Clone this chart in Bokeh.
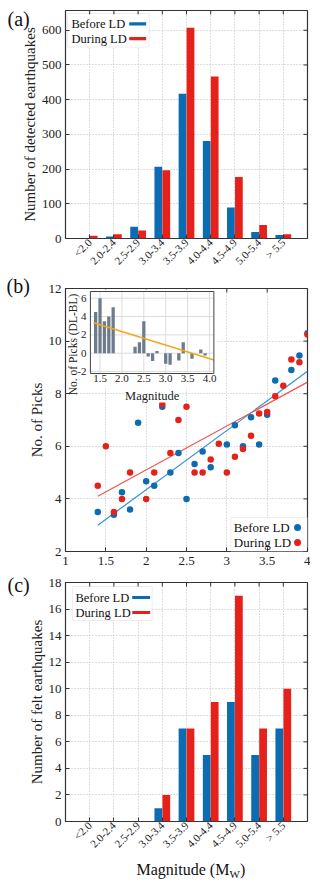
import math
import numpy as np
from bokeh.plotting import figure
from bokeh.layouts import column
from bokeh.models import Range1d, FixedTicker, Label, BoxAnnotation, Title
from bokeh.embed import file_html
from bokeh.resources import INLINE
from bokeh.core.properties import value

# ---------------- data ----------------
categories = ["<2.0", "2.0-2.4", "2.5-2.9", "3.0-3.4", "3.5-3.9",
              "4.0-4.4", "4.5-4.9", "5.0-5.4", "> 5.5"]
detected_before = [0, 6, 34, 207, 417, 281, 89, 19, 10]
detected_during = [8, 12, 23, 197, 607, 467, 177, 39, 12]
felt_before = [0, 0, 0, 1, 7, 5, 9, 5, 7]
felt_during = [0, 0, 0, 2, 7, 9, 17, 7, 10]

mag_before = [1.4, 1.6, 1.7, 1.8, 1.9, 2.0, 2.1, 2.2, 2.3, 2.4, 2.5, 2.6,
              2.7, 2.8, 3.0, 3.1, 3.2, 3.3, 3.4, 3.5, 3.6, 3.8, 3.9, 4.0]
picks_before = [3.5, 3.4, 4.25, 3.6, 6.9, 4.67, 4.5, 7.5, 5.0, 5.75, 4.0, 5.33,
                5.8, 5.2, 6.07, 6.8, 6.0, 7.1, 6.07, 7.2, 8.5, 8.9, 9.45, 10.3]
mag_during = [1.4, 1.5, 1.6, 1.7, 1.8, 2.0, 2.1, 2.2, 2.3, 2.4, 2.5, 2.6, 2.7,
              2.8, 2.9, 3.0, 3.1, 3.2, 3.3, 3.4, 3.5, 3.6, 3.7, 3.8, 3.9, 4.0]
picks_during = [4.5, 6.0, 3.5, 4.0, 5.0, 4.0, 5.0, 7.6, 5.75, 7.0, 7.5, 5.0, 5.0,
                5.5, 6.1, 5.0, 5.6, 5.9, 6.4, 7.25, 7.3, 7.9, 8.3, 9.3, 9.2, 10.25]
fit_before = [2.25, -0.15]    # slope, intercept
fit_during = [1.67, 1.76]

inset_mag = [1.4, 1.5, 1.6, 1.7, 1.8, 2.3, 2.4, 2.5, 2.6, 2.7, 2.8,
             3.0, 3.1, 3.3, 3.4, 3.6, 3.8, 3.9]
inset_diff = [4.5, 6.0, 3.5, 4.0, 5.0, 0.7, 1.2, 3.5, -0.35, -0.85, 0.25,
              -1.15, -1.25, -0.8, 1.2, -0.6, 0.4, -0.25]
inset_trend = [-1.47, 5.3]    # slope, intercept

bar_xticks = list(range(len(categories)))
b_xticks = [1, 1.5, 2, 2.5, 3, 3.5, 4]
b_xlabels = ["1", "1.5", "2", "2.5", "3", "3.5", "4"]
b_yticks = [2, 4, 6, 8, 10, 12]
a_yticks = [0, 100, 200, 300, 400, 500, 600]
c_yticks = [0, 2, 4, 6, 8, 10, 12, 14, 16, 18]
inset_xticks = [1.5, 2.0, 2.5, 3.0, 3.5, 4.0]
inset_xlabels = ["1.5", "2.0", "2.5", "3.0", "3.5", "4.0"]
inset_yticks = [-2, 0, 2, 4, 6]

# ---------------- style ----------------
BLUE = "#0b6cb1"
RED = "#e5211a"
BLUE_L = "#2f92da"
RED_L = "#f0544e"
FONT = "Liberation Serif"
GRID = "#bdbdbd"
SH = 6          # compensation for where the page places the figures
W = 304 + SH


def lin(px, a_px, b_px, a, b):
    return a + (px - a_px) * (b - a) / (b_px - a_px)


def style_main(p, xticks, yticks, xr, yr, fw, fh, xlabel_size="13px"):
    p.outline_line_color = "#333333"
    p.outline_line_width = 1.2
    xa, ya = p.below[0], p.left[0]
    xa.ticker = FixedTicker(ticks=xticks)
    ya.ticker = FixedTicker(ticks=yticks)
    p.xgrid.ticker = FixedTicker(ticks=xticks)
    p.ygrid.ticker = FixedTicker(ticks=yticks)
    for g in (p.xgrid, p.ygrid):
        g.grid_line_color = GRID
        g.grid_line_dash = "1 2"
        g.grid_line_width = 1
    for ax in (xa, ya):
        ax.axis_line_color = None
        ax.major_tick_in = 4
        ax.major_tick_out = 0
        ax.minor_tick_line_color = None
        ax.major_tick_line_color = "#333333"
        ax.major_label_text_font = FONT
        ax.major_label_text_color = "#222222"
        ax.axis_label_text_font = FONT
        ax.axis_label_text_font_style = "normal"
        ax.axis_label_text_font_size = "15px"
        ax.axis_label_text_color = "#222222"
    ya.major_label_text_font_size = "13px"
    ya.major_label_standoff = 4
    ya.axis_label_standoff = 1
    xa.major_label_text_font_size = xlabel_size
    ux = (xr[1] - xr[0]) / fw
    uy = (yr[1] - yr[0]) / fh
    p.segment(x0=xticks, x1=xticks, y0=[yr[1]] * len(xticks),
              y1=[yr[1] - 4 * uy] * len(xticks), line_color="#333333", line_width=1)
    p.segment(x0=[xr[1]] * len(yticks), x1=[xr[1] - 4 * ux] * len(yticks),
              y0=yticks, y1=yticks, line_color="#333333", line_width=1)
    return xa, ya


def bar_legend(p, L, R, T, B, x0, x1, y0, y1, box, rows):
    X = lambda px: lin(px, L, R, x0, x1)
    Y = lambda py: lin(py, B, T, y0, y1)
    bl, br, bt, bb = box
    p.add_layout(BoxAnnotation(left=X(bl), right=X(br), top=Y(bt), bottom=Y(bb),
                               fill_color="white", fill_alpha=0.9, level="underlay",
                               line_color="#c8c8c8", line_width=1))
    for text, color, ty, tx, s0, s1 in rows:
        p.add_layout(Label(x=X(tx), y=Y(ty), text=text, text_font=FONT,
                           text_font_size="12.5px", text_color="#111111",
                           text_baseline="middle", text_align="left"))
        p.add_layout(BoxAnnotation(left=X(s0), right=X(s1), top=Y(ty - 1.6),
                                   bottom=Y(ty + 1.6), fill_color=color,
                                   fill_alpha=1, line_color=None))


def side_text(p, side, text, offset, standoff, size="20px"):
    p.add_layout(Title(text=text, align="left", offset=offset, standoff=standoff,
                       vertical_align="bottom", text_font=FONT, text_font_size=size,
                       text_font_style="normal", text_color="#111111"), side)


xs = np.arange(len(categories))
overrides = {i: c for i, c in enumerate(categories)}

# ---------------- (a) ----------------
pa = figure(width=W, height=274, x_range=Range1d(-1, 9), y_range=Range1d(0, 657),
            output_backend="svg", toolbar_location=None,
            min_border_left=58 + SH, min_border_right=3, min_border_top=10,
            min_border_bottom=33)
xa, ya = style_main(pa, bar_xticks, a_yticks, (-1, 9), (0, 657), 243, 231, "11px")
xa.major_label_overrides = overrides
xa.major_label_orientation = math.pi / 4
xa.major_label_standoff = 2
ya.axis_label = "Number of detected earthquakes"
pa.vbar(x=xs - 0.165, top=detected_before, width=0.32, fill_color=BLUE, line_color=None)
pa.vbar(x=xs + 0.165, top=detected_during, width=0.32, fill_color=RED, line_color=None)
La, Ra, Ta, Ba = 66, 309, 12, 243
bar_legend(pa, La, Ra, Ta, Ba, -1, 9, 0, 657, (68, 150, 15, 49),
           [("Before LD", BLUE, 25.5, 72, 130, 147),
            ("During LD", RED, 40.5, 72, 130, 147)])
side_text(pa, "above", "(a)", 8 - La, -38)

# ---------------- (b) ----------------
pb = figure(width=W, height=298, x_range=Range1d(1, 4), y_range=Range1d(2, 12),
            output_backend="svg", toolbar_location=None,
            min_border_left=59 + SH, min_border_right=2, min_border_top=14,
            min_border_bottom=21)
xb, yb = style_main(pb, b_xticks, b_yticks, (1, 4), (2, 12), 243, 263, "13px")
xb.major_label_overrides = {t: l for t, l in zip(b_xticks, b_xlabels)}
yb.axis_label = "No. of Picks"
Lb, Rb, Tb, Bb = 67, 310, 290, 553

for mags, fit, col in ((mag_before, fit_before, BLUE_L), (mag_during, fit_during, RED_L)):
    xx = np.array([min(mags), max(mags)])
    pb.line(xx, fit[0] * xx + fit[1], line_color=col, line_width=1.2)
pb.scatter(mag_before, picks_before, size=6.5, fill_color=BLUE, line_color=None)
pb.scatter(mag_during, picks_during, size=6.5, fill_color=RED, line_color=None)

Xb = lambda px: lin(px, Lb, Rb, 1, 4)
Yb = lambda py: lin(py, Bb, Tb, 2, 12)
pb.add_layout(BoxAnnotation(left=Xb(233), right=Xb(310), top=Yb(519), bottom=Yb(553),
                            fill_color="white", fill_alpha=0.9, level="underlay",
                            line_color="#c8c8c8"))
for text, color, ty in (("Before LD", BLUE, 529), ("During LD", RED, 544)):
    pb.add_layout(Label(x=Xb(236), y=Yb(ty), text=text, text_font=FONT,
                        text_font_size="13px", text_color="#111111",
                        text_baseline="middle", text_align="left"))
pb.scatter([Xb(300), Xb(300)], [Yb(529), Yb(544)], size=7,
           fill_color=[BLUE, RED], line_color=None)
side_text(pb, "above", "(b)", 8 - Lb, -16)

# inset
iL, iR, iT, iB = 92, 216, 293, 375
ix0, ix1, iy0, iy1 = 1.28, 4.1, -2.21, 6.73
sx = (ix1 - ix0) / (iR - iL)
sy = (iy1 - iy0) / (iB - iT)
pb.extra_x_ranges = {"ix": Range1d(ix0 - (iL - Lb) * sx, ix1 + (Rb - iR) * sx)}
pb.extra_y_ranges = {"iy": Range1d(iy0 - (Bb - iB) * sy, iy1 + (iT - Tb) * sy)}
IX = lambda px: ix0 + (px - iL) * sx
IY = lambda py: iy1 - (py - iT) * sy
kw = dict(x_range_name="ix", y_range_name="iy")
pb.quad(left=[IX(69)], right=[IX(219)], top=[IY(291)], bottom=[IY(390)],
        fill_color="white", line_color=None, **kw)
pb.segment(x0=inset_xticks, x1=inset_xticks, y0=[iy0] * len(inset_xticks),
           y1=[iy1] * len(inset_xticks), line_color="#dcdcdc", line_width=1, **kw)
pb.segment(x0=[ix0] * len(inset_yticks), x1=[ix1] * len(inset_yticks),
           y0=inset_yticks, y1=inset_yticks, line_color="#dcdcdc", line_width=1, **kw)
pb.vbar(x=inset_mag, top=inset_diff, bottom=0, width=0.075,
        fill_color="#6d7c8c", line_color=None, **kw)
tx = np.array([ix0 + 0.07, ix1])
pb.line(tx, inset_trend[0] * tx + inset_trend[1], line_color="#f2a81d", line_width=1.6, **kw)
pb.quad(left=[ix0], right=[ix1], top=[iy1], bottom=[iy0], fill_color=None,
        line_color="#444444", line_width=1, **kw)
pb.text(x=[ix0] * len(inset_yticks), y=inset_yticks, text=[str(t) for t in inset_yticks],
        x_offset=-4, text_align="right", text_baseline="middle",
        text_font=value(FONT), text_font_size="11px", text_color="#222222", **kw)
pb.text(x=inset_xticks, y=[iy0] * len(inset_xticks), text=inset_xlabels,
        y_offset=1, text_align="center", text_baseline="top",
        text_font=value(FONT), text_font_size="11px", text_color="#222222", **kw)
pb.text(x=[IX(75)], y=[IY(346)], text=["No. of Picks (DL-BL)"], angle=math.pi / 2,
        text_align="center", text_baseline="middle",
        text_font=value(FONT), text_font_size="11.5px", text_color="#222222", **kw)
pb.add_layout(Label(x=IX(154), y=IY(397), text="Magnitude", text_align="center",
                    text_baseline="middle", text_font=FONT, text_font_size="12.5px",
                    text_color="#222222", background_fill_color="white",
                    x_range_name="ix", y_range_name="iy"))

# ---------------- (c) ----------------
pc = figure(width=W, height=308, x_range=Range1d(-1, 9), y_range=Range1d(0, 18),
            output_backend="svg", toolbar_location=None,
            min_border_left=58 + SH, min_border_right=3, min_border_top=10,
            min_border_bottom=59)
xc, yc = style_main(pc, bar_xticks, c_yticks, (-1, 9), (0, 18), 243, 239, "11px")
xc.major_label_overrides = overrides
xc.major_label_orientation = math.pi / 4
xc.major_label_standoff = 2
yc.axis_label = "Number of felt earthquakes"
pc.vbar(x=xs - 0.165, top=felt_before, width=0.32, fill_color=BLUE, line_color=None)
pc.vbar(x=xs + 0.165, top=felt_during, width=0.32, fill_color=RED, line_color=None)
Lc, Rc, Tc, Bc = 66, 309, 584, 823
bar_legend(pc, Lc, Rc, Tc, Bc, -1, 9, 0, 18, (73, 153, 588, 622),
           [("Before LD", BLUE, 599, 76, 133, 151),
            ("During LD", RED, 614, 76, 133, 151)])
side_text(pc, "above", "(c)", 8 - Lc, -26)
side_text(pc, "below", "Magnitude (M", 137 - Lc, -41, "16px")
side_text(pc, "below", "W", 230 - Lc, -45, "11px")
side_text(pc, "below", ")", 240.5 - Lc, -41, "16px")

layout = column(pa, pb, pc, spacing=0)
open("out.html", "w").write(file_html(layout, INLINE))
